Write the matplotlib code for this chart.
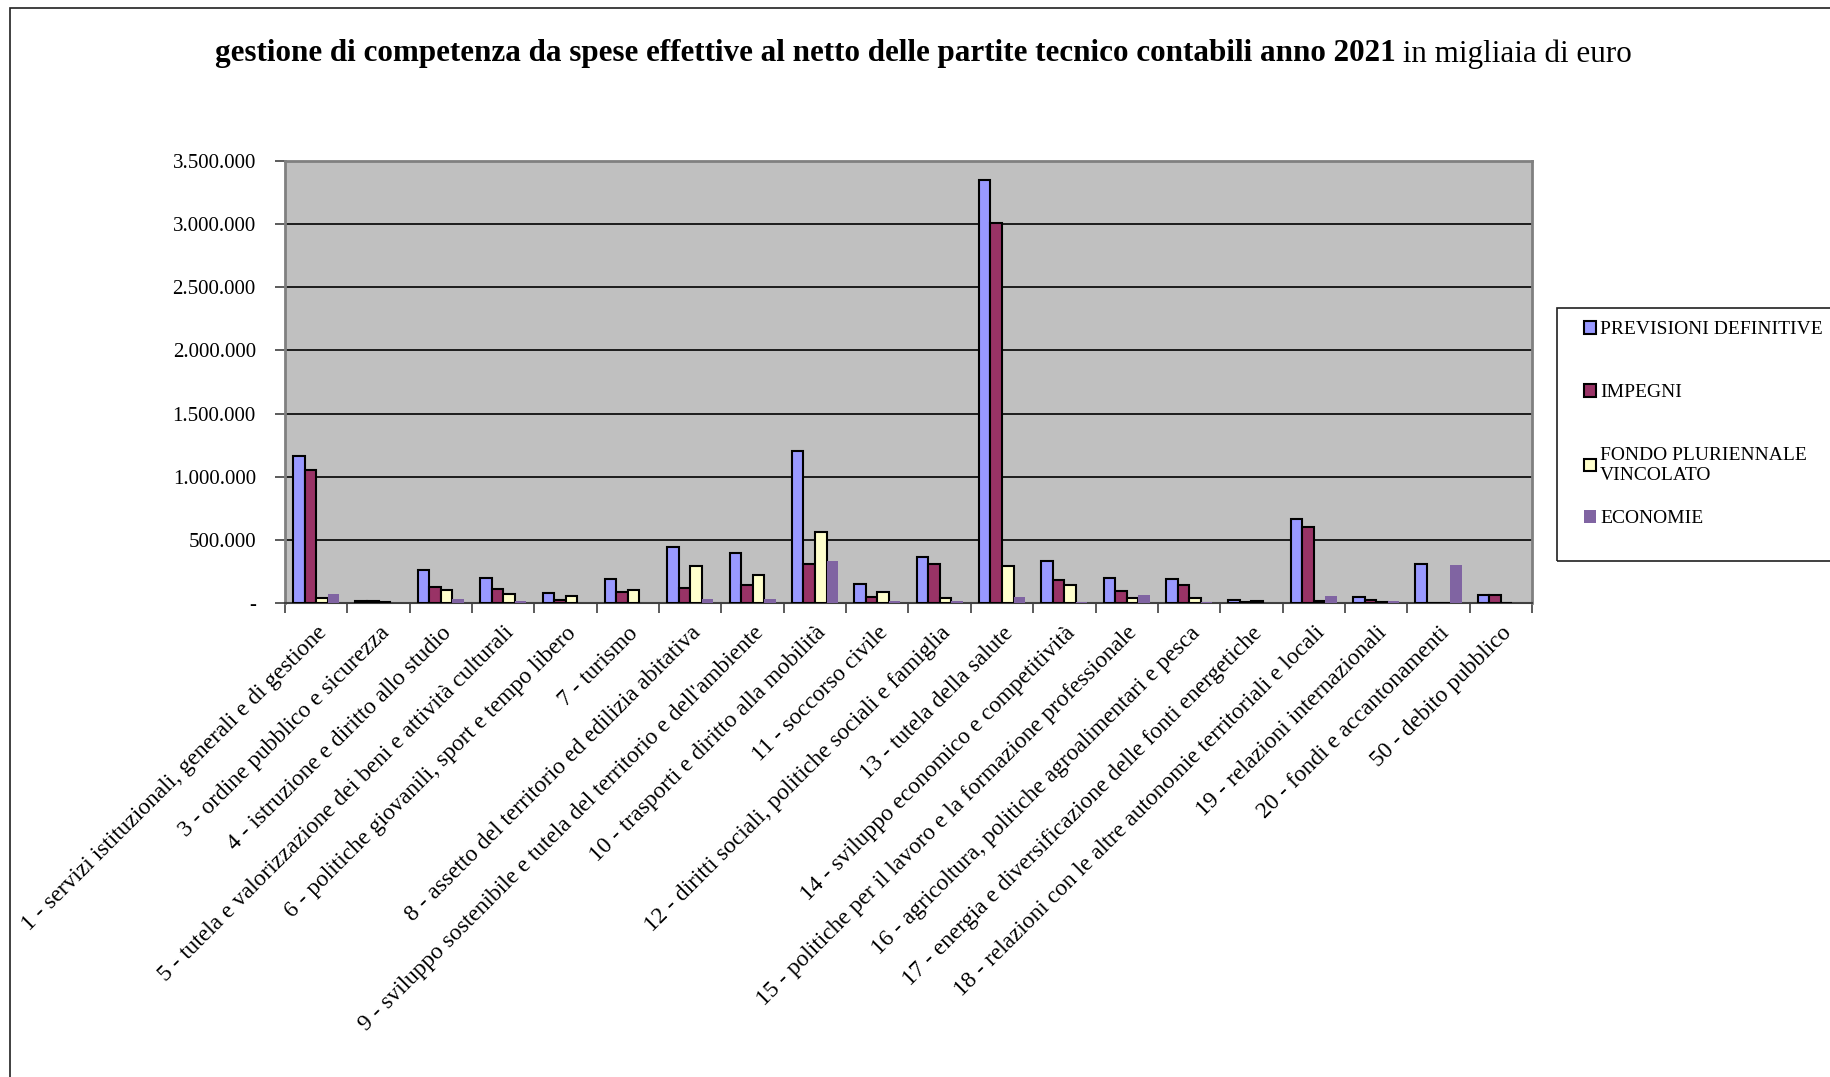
import numpy as np
import matplotlib
matplotlib.use("Agg")
import matplotlib.pyplot as plt
from matplotlib.patches import Rectangle
from matplotlib.ticker import FuncFormatter, MultipleLocator

plt.rcParams['font.family'] = ['Liberation Serif', 'DejaVu Serif']

categories = [
    "1 - servizi istituzionali, generali e di gestione",
    "3 - ordine pubblico e sicurezza",
    "4 - istruzione e diritto allo studio",
    "5 - tutela e valorizzazione dei beni e attività culturali",
    "6 - politiche giovanili, sport e tempo libero",
    "7 - turismo",
    "8 - assetto del territorio ed edilizia abitativa",
    "9 - sviluppo sostenibile e tutela del territorio e dell'ambiente",
    "10 - trasporti e diritto alla mobilità",
    "11 - soccorso civile",
    "12 - diritti sociali, politiche sociali e famiglia",
    "13 - tutela della salute",
    "14 - sviluppo economico e competitività",
    "15 - politiche per il lavoro e la formazione professionale",
    "16 - agricoltura, politiche agroalimentari e pesca",
    "17 - energia e diversificazione delle fonti energetiche",
    "18 - relazioni con le altre autonomie territoriali e locali",
    "19 - relazioni internazionali",
    "20 - fondi e accantonamenti",
    "50 - debito pubblico",
]

# migliaia di euro
previsioni = [1161000, 18000, 258000, 198000, 79000, 190000, 440000, 396000, 1206000, 150000,
              361000, 3353000, 332000, 200000, 190000, 21000, 668000, 45000, 309000, 61000]
impegni = [1055000, 13000, 127000, 111000, 26000, 84000, 119000, 142000, 309000, 45000,
           306000, 3008000, 185000, 98000, 142000, 5000, 602000, 26000, 0, 61000]
fondo = [40000, 8000, 100000, 71000, 53000, 100000, 293000, 224000, 565000, 84000,
         37000, 295000, 140000, 37000, 42000, 16000, 16000, 5000, 0, 0]
economie = [74000, 1000, 34000, 16000, 2000, 2000, 32000, 34000, 335000, 18000,
            16000, 50000, 8000, 63000, 5000, 1000, 55000, 18000, 303000, 0]

series = [
    ("PREVISIONI DEFINITIVE", previsioni, "#9999FF", "black"),
    ("IMPEGNI", impegni, "#993366", "black"),
    ("FONDO PLURIENNALE\nVINCOLATO", fondo, "#FFFFCC", "black"),
    ("ECONOMIE", economie, "#8064A2", "none"),
]

W, H = 1831, 1077
fig = plt.figure(figsize=(W / 100, H / 100), dpi=100)
fig.patch.set_facecolor("white")

# outer chart frame (runs off the right and bottom edges)
fig.patches.append(Rectangle((10 / W, -0.2), 1.2, 1.2 - 8 / H, transform=fig.transFigure,
                             fill=False, ec="#202020", lw=1.2, clip_on=False))

ax = fig.add_axes([285 / W, 1 - 603 / H, (1532 - 285) / W, (603 - 161) / H])
ax.set_facecolor("#C0C0C0")

x = np.arange(len(categories))
bw = 0.185
handles = []
for i, (name, vals, color, ec) in enumerate(series):
    b = ax.bar(x + (i - 1.5) * bw, vals, bw, color=color, edgecolor=ec,
               linewidth=1.5 if ec != "none" else 0, label=name, zorder=3)
    handles.append(b)

ax.set_xlim(-0.5, len(categories) - 0.5)
ax.set_ylim(0, 3500000)
ax.yaxis.set_major_locator(MultipleLocator(500000))
ax.yaxis.set_major_formatter(FuncFormatter(
    lambda v, p: "-" if v == 0 else f"{int(v):,}".replace(",", ".")))
ax.grid(axis="y", color="black", lw=1.2, zorder=1)
ax.set_axisbelow(True)

ax.set_xticks(x)
ax.set_xticklabels(categories, rotation=45, ha="right", va="top",
                   rotation_mode="anchor", fontsize=16.8)
ax.set_xticks(np.arange(len(categories) + 1) - 0.5, minor=True)
ax.tick_params(axis="x", which="major", length=0, pad=14)
ax.tick_params(axis="x", which="minor", length=7, color="#404040", width=1.2)
ax.tick_params(axis="y", length=7, color="#404040", width=1.2, labelsize=15, pad=14)

for s in ["top", "right", "left"]:
    ax.spines[s].set_color("#808080")
    ax.spines[s].set_linewidth(2)
ax.spines["bottom"].set_color("#404040")
ax.spines["bottom"].set_linewidth(1.5)

# title: bold part + regular part, centred together
ty = 1 - 54 / H
t1 = fig.text(0, ty, "gestione di competenza da spese effettive al netto delle partite tecnico contabili anno 2021",
              fontsize=22.4, fontweight="bold", ha="left", va="center")
t2 = fig.text(0, ty, " in migliaia di euro", fontsize=22.4, ha="left", va="center")
fig.canvas.draw()
r = fig.canvas.get_renderer()
w1 = t1.get_window_extent(r).width
w2 = t2.get_window_extent(r).width
x0 = 923.5 - (w1 + w2) / 2
t1.set_x(x0 / W)
t2.set_x((x0 + w1) / W)

# legend box, cut by the right edge like the original
fig.patches.append(Rectangle((1557 / W, 1 - 561 / H), 0.3, (561 - 308) / H,
                             transform=fig.transFigure, fill=False, ec="#202020", lw=1.2,
                             clip_on=False))
leg_kw = dict(loc="upper left", frameon=False, fontsize=14,
              handlelength=0.62, handleheight=0.62, handletextpad=0.2, labelspacing=2.36,
              borderpad=0, borderaxespad=0)
labels = [s[0] for s in series]
fig.legend(handles=handles[:3], labels=labels[:3],
           bbox_to_anchor=(1584 / W, 1 - 321 / H), **leg_kw)
fig.legend(handles=handles[3:], labels=labels[3:],
           bbox_to_anchor=(1584 / W, 1 - 510 / H), **leg_kw)

fig.savefig("out.png", dpi=100)
